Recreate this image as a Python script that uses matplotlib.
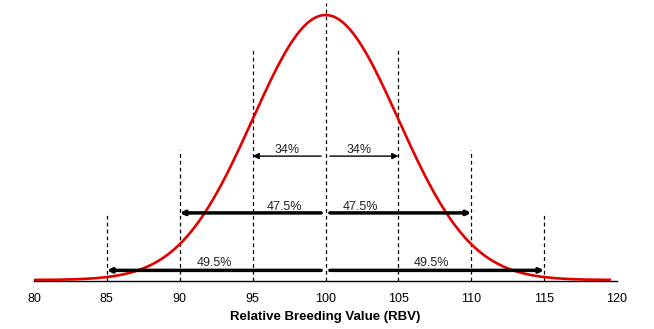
import numpy as np
import matplotlib.pyplot as plt

plt.rcParams['font.family'] = ['Liberation Sans', 'DejaVu Sans']

# normal distribution of RBV
mean = 100
sd = 5
x_ticks = [80, 85, 90, 95, 100, 105, 110, 115, 120]

# dashed guide lines: x position and top height (density units)
guide_x = [85, 90, 95, 100, 105, 110, 115]
guide_top = [0.0199, 0.0394, 0.0696, 0.0837, 0.0696, 0.0394, 0.0199]

# arrows: label, left end, right end, height, line width
arrow_labels = ['34%', '47.5%', '49.5%']
arrow_left = [95, 90, 85]
arrow_right = [105, 110, 115]
arrow_y = [0.0376, 0.0205, 0.0032]
arrow_lw = [1.0, 2.5, 2.5]
# label positions (left, right) and heights
label_left_x = [97.4, 97.2, 92.4]
label_right_x = [102.3, 102.4, 107.3]
label_y = [0.0394, 0.0223, 0.0054]

fig = plt.figure(figsize=(6.54, 3.29), dpi=100)
ax = fig.add_axes([34 / 654, 48 / 329, 583 / 654, 281 / 329])

xs = np.linspace(80, 119.5, 400)
pdf = np.exp(-0.5 * ((xs - mean) / sd) ** 2) / (sd * np.sqrt(2 * np.pi))
ax.plot(xs, pdf + 0.0003, color='#e00000', lw=1.9, zorder=3)

for gx, gt in zip(guide_x, guide_top):
    ax.plot([gx, gx], [0, gt], color='black', lw=0.9, ls=(0, (3, 2.5)), zorder=2)

for lab, l, r, y, lw, lx, rx, ly in zip(arrow_labels, arrow_left, arrow_right, arrow_y,
                                        arrow_lw, label_left_x, label_right_x, label_y):
    ms = 9 if lw < 2 else 6
    ax.annotate('', xy=(l, y), xytext=(mean - 0.3, y),
                arrowprops=dict(arrowstyle='-|>', color='black', lw=lw,
                                mutation_scale=ms, shrinkA=0, shrinkB=0), zorder=4)
    ax.annotate('', xy=(r, y), xytext=(mean + 0.3, y),
                arrowprops=dict(arrowstyle='-|>', color='black', lw=lw,
                                mutation_scale=ms, shrinkA=0, shrinkB=0), zorder=4)
    ax.text(lx, ly, lab, ha='center', va='center', fontsize=9, color='#222222')
    ax.text(rx, ly, lab, ha='center', va='center', fontsize=9, color='#222222')

ax.set_xlim(80, 120)
ax.set_ylim(0, 0.0846)
ax.set_xticks(x_ticks)
ax.tick_params(axis='x', length=0, pad=9, labelsize=9)
ax.set_yticks([])
for s in ['top', 'left', 'right']:
    ax.spines[s].set_visible(False)
ax.spines['bottom'].set_linewidth(1.0)
ax.set_xlabel('Relative Breeding Value (RBV)', fontsize=9.5, fontweight='bold', labelpad=4)

fig.savefig('out.png', dpi=100)
